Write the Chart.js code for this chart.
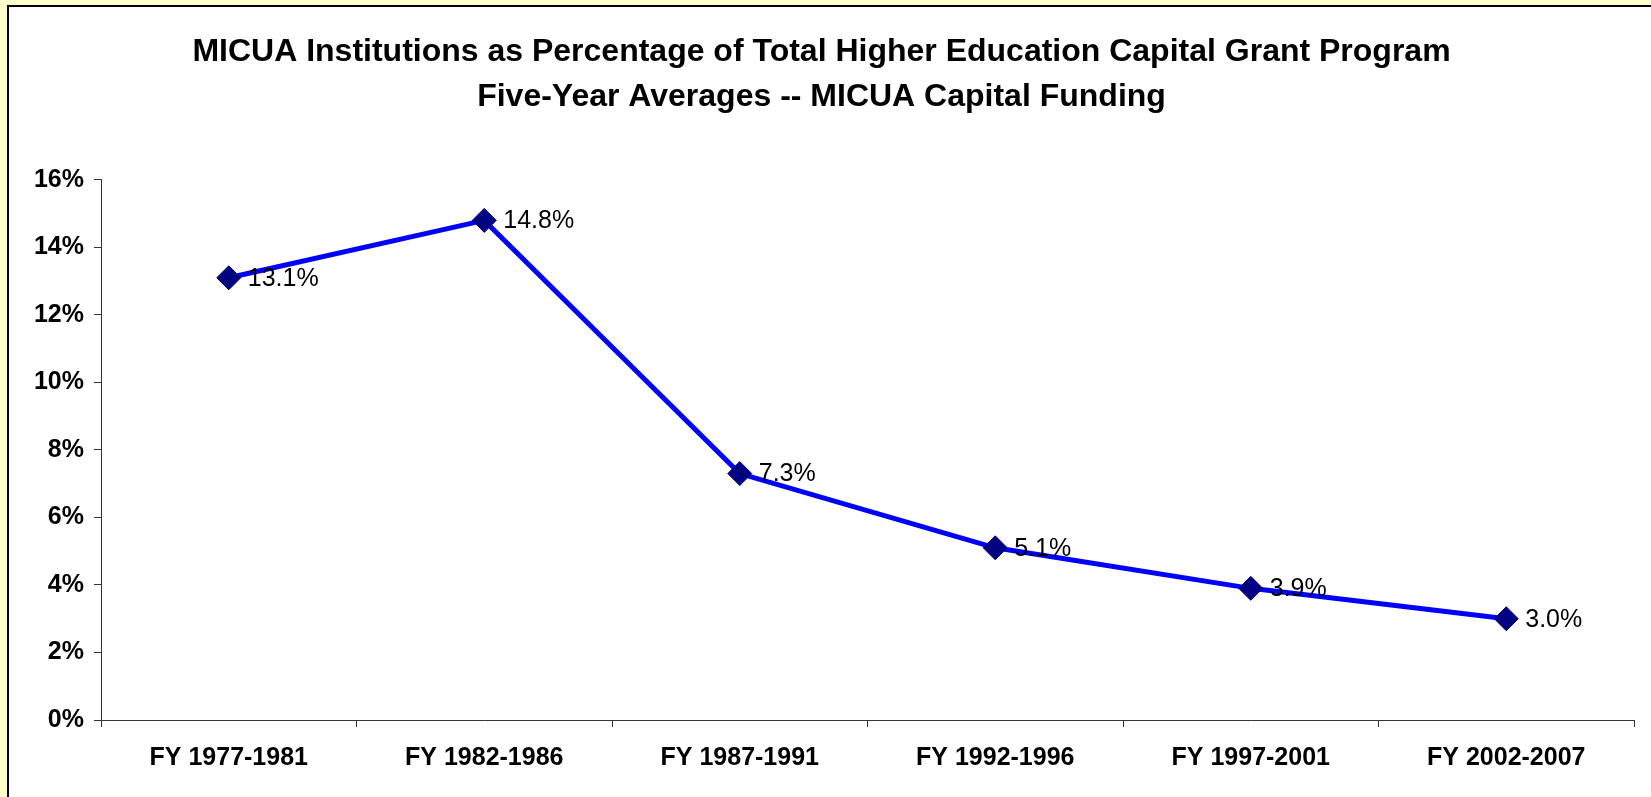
<!DOCTYPE html>
<html>
<head>
<meta charset="utf-8">
<script src="https://cdn.jsdelivr.net/npm/chart.js@4"></script>
<style>
  html,body{margin:0;padding:0;background:#ffffcc;overflow:hidden}
  #frame{position:absolute;left:7px;top:5px;width:1700px;height:850px;background:#fff;border-left:2px solid #000;border-top:2px solid #000}
  #c{position:absolute;left:0;top:0}
</style>
</head>
<body>
<div id="frame"><canvas id="c" width="1642" height="790"></canvas></div>
<script>
// ══════════════ DONNÉES ══════════════
const PERIODS = ['FY 1977-1981','FY 1982-1986','FY 1987-1991','FY 1992-1996','FY 1997-2001','FY 2002-2007'];
const MICUA_PCT = [13.1, 14.8, 7.3, 5.1, 3.9, 3.0];
const TITLE_LINES = [
  'MICUA Institutions as Percentage of Total Higher Education Capital Grant Program',
  'Five-Year Averages -- MICUA Capital Funding'
];
const Y_MIN = 0, Y_MAX = 16, Y_STEP = 2;

const FONT = 'Liberation Sans, Arial, sans-serif';
const AXIS_COL = '#333';

// étiquettes de valeur à droite de chaque losange
const valueLabels = {
  id: 'valueLabels',
  afterDatasetsDraw(chart){
    const ctx = chart.ctx;
    const meta = chart.getDatasetMeta(0);
    ctx.save();
    ctx.font = '25px ' + FONT;
    ctx.fillStyle = '#000';
    ctx.textAlign = 'left';
    ctx.textBaseline = 'middle';
    meta.data.forEach((p,i)=>{
      ctx.fillText(MICUA_PCT[i].toFixed(1)+'%', p.x+19, p.y+1);
    });
    ctx.restore();
  }
};

new Chart(document.getElementById('c'), {
  type: 'line',
  data: {
    labels: PERIODS,
    datasets: [{
      data: MICUA_PCT,
      borderColor: '#0000ff',
      borderWidth: 5,
      tension: 0,
      pointStyle: 'rectRot',
      pointRadius: 12,
      pointHoverRadius: 12,
      pointBackgroundColor: '#000080',
      pointBorderColor: '#000080',
      pointBorderWidth: 1
    }]
  },
  options: {
    responsive: false,
    animation: false,
    layout: { padding: { left:0, right:17, top:0, bottom:0 } },
    plugins: {
      legend: { display:false },
      tooltip: { enabled:false },
      title: {
        display: true,
        text: TITLE_LINES,
        color: '#000',
        font: { family: FONT, size: 32, weight: 'bold', lineHeight: 1.42 },
        padding: { top: 22, bottom: 60 }
      }
    },
    scales: {
      x: {
        offset: true,
        grid: { offset:true, drawOnChartArea:false, drawTicks:true, tickLength:7, color:AXIS_COL },
        border: { display:true, color:AXIS_COL, width:1 },
        ticks: { color:'#000', padding:16, maxRotation:0, font:{ family:FONT, size:25, weight:'bold' } },
        afterFit: s => { s.height = 77; }
      },
      y: {
        min: Y_MIN, max: Y_MAX,
        grid: { drawOnChartArea:false, drawTicks:true, tickLength:7, color:AXIS_COL },
        border: { display:true, color:AXIS_COL, width:1 },
        ticks: { stepSize:Y_STEP, color:'#000', padding:10, font:{ family:FONT, size:25, weight:'bold' }, callback: v => v+'%' },
        afterFit: s => { s.width = 92; }
      }
    }
  },
  plugins: [valueLabels]
});
</script>
</body>
</html>
